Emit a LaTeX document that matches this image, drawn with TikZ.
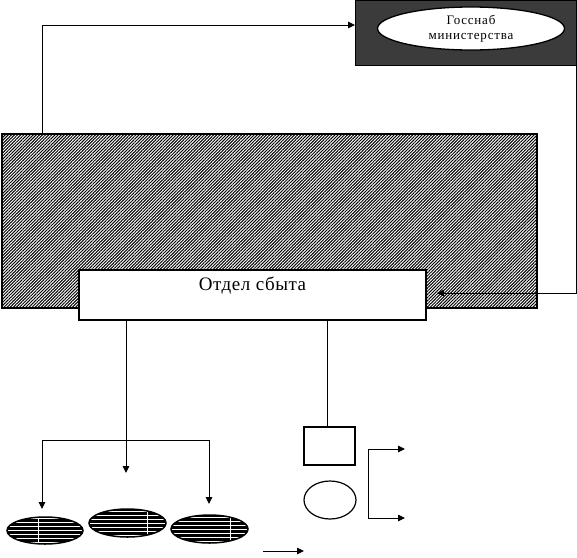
\documentclass[tikz,border=0pt]{standalone}
\usepackage{fontspec}
\setmainfont{Liberation Serif}
\newfontfamily\spacedfont[LetterSpace=6]{Liberation Serif}
\newfontfamily\otdelfont[LetterSpace=3]{Liberation Serif}
\usetikzlibrary{arrows.meta,patterns.meta,shapes.geometric}
\begin{document}
\begin{tikzpicture}[x=1pt,y=-1pt,
  tip/.tip={Triangle[length=7pt,width=6.5pt]},
  conn/.style={line width=0.9pt,-tip},
  bothconn/.style={line width=0.9pt,tip-tip},
  plain/.style={line width=0.9pt},
  gosbox/.style={rectangle,draw,line width=0.8pt,inner sep=0,outer sep=0,
    minimum width=221pt,minimum height=65pt,
    preaction={fill=black},pattern={Dots[distance=2pt,radius=0.68pt]},pattern color=white},
  gosell/.style={ellipse,draw,line width=1.3pt,fill=white,inner sep=0,outer sep=0,
    minimum width=187pt,minimum height=43pt,align=center,
    font=\spacedfont\fontsize{13}{15.5}\selectfont},
  bigbox/.style={rectangle,draw,line width=2pt,inner sep=0,outer sep=0,
    minimum width=535pt,minimum height=174pt,
    preaction={fill=white},pattern={Lines[angle=45,distance=2.2pt,line width=1pt]}},
  otdelbox/.style={rectangle,draw,line width=2pt,fill=white,inner sep=0,outer sep=0,
    minimum width=347pt,minimum height=50pt},
  stripe/.style={ellipse,draw,line width=1.5pt,inner sep=0,outer sep=0,
    minimum width=76pt,minimum height=27pt,
    path picture={
      \fill[black] (path picture bounding box.south west) rectangle (path picture bounding box.north east);
      \foreach \k in {-12,-8,...,12}
        \draw[white,line width=0.8pt] ([yshift=\k pt]path picture bounding box.west) -- ([yshift=\k pt]path picture bounding box.east);
      \draw[white,line width=0.8pt] ([xshift=#1]path picture bounding box.north) -- ([xshift=#1]path picture bounding box.south);
    }},
  sqbox/.style={rectangle,draw,line width=1.5pt,inner sep=0,outer sep=0,minimum width=51pt,minimum height=38pt},
  ovbox/.style={ellipse,draw,line width=1.2pt,inner sep=0,outer sep=0,minimum width=52pt,minimum height=38pt}
]
\useasboundingbox[fill=white] (0,0) rectangle (577,557);

% top supply box
\node[gosbox] (gos) at (465.5,32.5) {};
\node[gosell] (gosell) at (471,28.5) {Госснаб\\министерства};

% big hatched box and sales department
\node[bigbox] (big) at (269.5,221) {};
\node[otdelbox,label={[anchor=north,inner sep=0,yshift=-7pt,font=\otdelfont\fontsize{19}{21}\selectfont]north:Отдел сбыта}] (otdel) at (252.5,295) {};

% arrow to supply box
\coordinate (a1) at (42,134);
\coordinate (a1t) at (42,25);
\coordinate (gosin) at (355,25);
\draw[conn] (a1) -- (a1t) -- (gosin);

% arrow back into the big box
\coordinate (otin) at (437,293);
\draw[conn] (gos.south east) |- (otin);

% left branch
\coordinate (o1) at (126,320);
\coordinate (o1e) at (126,473);
\draw[conn] (o1) -- (o1e);
\coordinate (bl) at (42,509);
\coordinate (blc) at (42,440);
\coordinate (brc) at (209,440);
\coordinate (br) at (209,504);
\draw[bothconn] (bl) -- (blc) -- (brc) -- (br);

\node[stripe=-7pt] (e1) at (45,530.5) {};
\node[stripe=20pt,minimum width=77pt,minimum height=28pt] (e2) at (127.5,523) {};
\node[stripe=20.5pt,minimum width=77pt,minimum height=28pt] (e3) at (209.5,529) {};

% right items
\node[sqbox] (sq) at (329.5,446) {};
\node[ovbox] (ov) at (330,500) {};
\coordinate (o2) at (327,320);
\draw[plain] (o2) -- (o2 |- sq.north);

\coordinate (bt) at (405,449);
\coordinate (btc) at (368,449);
\coordinate (bbc) at (368,518);
\coordinate (bb) at (405,518);
\draw[bothconn] (bt) -- (btc) -- (bbc) -- (bb);

\coordinate (sa1) at (263,551);
\coordinate (sa2) at (304,551);
\draw[conn] (sa1) -- (sa2);
\end{tikzpicture}
\end{document}
